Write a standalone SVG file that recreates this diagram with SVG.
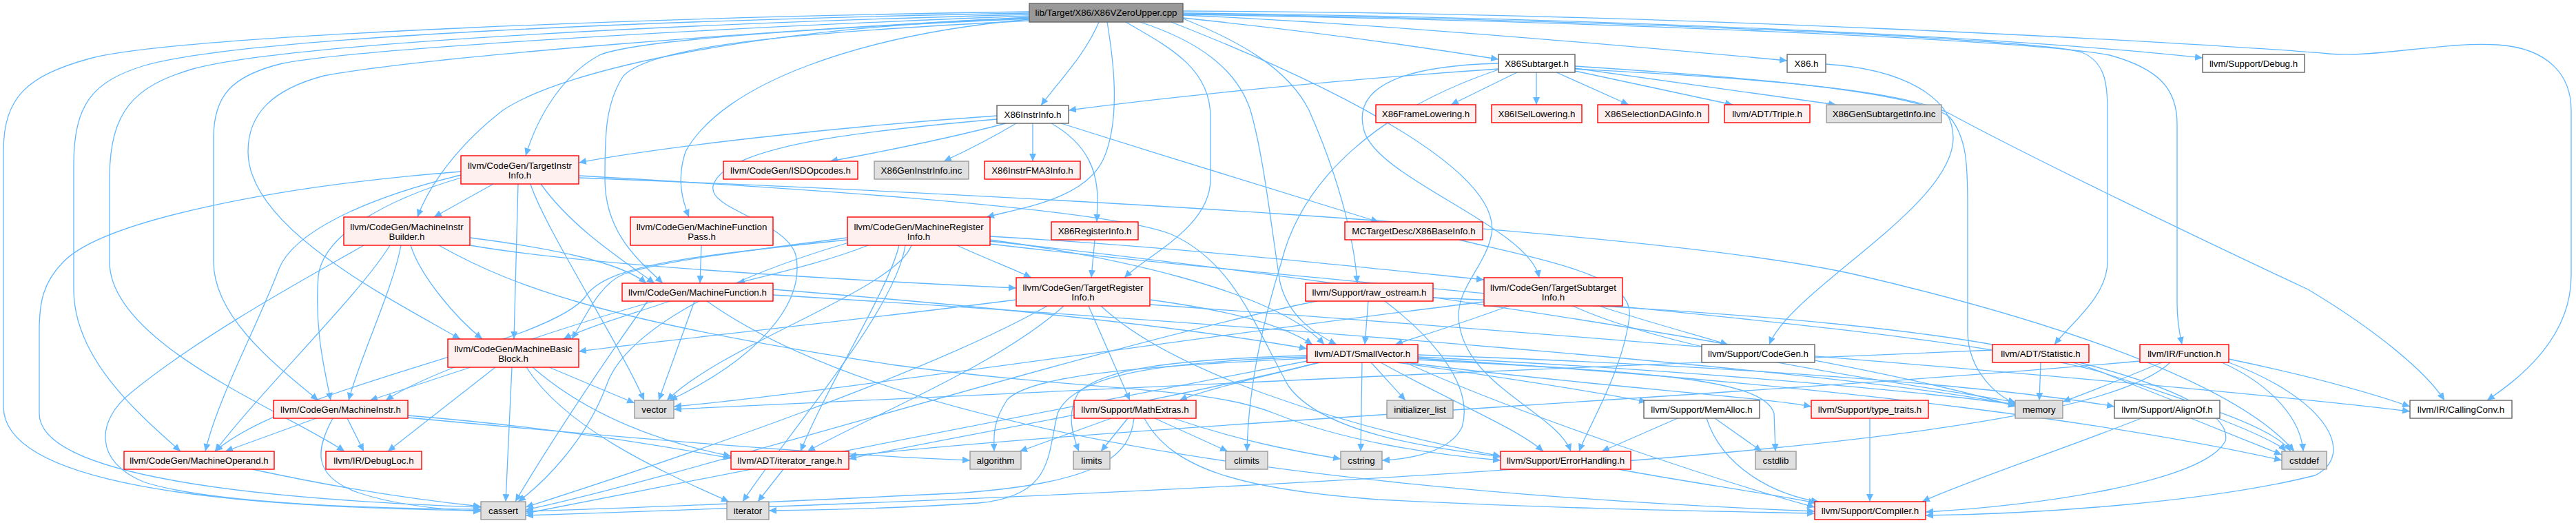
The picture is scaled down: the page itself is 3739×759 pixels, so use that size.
<svg xmlns="http://www.w3.org/2000/svg" width="3739" height="759" viewBox="0 0 3739 759">
<style>
.e path{fill:none;stroke:#63B8FF;stroke-width:1.3;marker-end:url(#ah)}
.n text{font-family:"Liberation Sans",Arial,sans-serif;font-size:13.33px;text-anchor:middle;fill:#000}
.n rect{stroke-width:1.4}
.red rect{fill:#FFF0F0;stroke:#FF0000}
.gry rect{fill:#E0E0E0;stroke:#999999}
.wht rect{fill:#FFFFFF;stroke:#666666}
.rt rect{fill:#999999;stroke:#666666}
</style>
<defs>
<marker id="ah" viewBox="0 0 11 10" refX="11" refY="5" markerWidth="11" markerHeight="10" markerUnits="userSpaceOnUse" orient="auto"><path d="M0,0L11,5L0,10z" fill="#63B8FF"/></marker>
</defs>
<rect width="3739" height="759" fill="#FFFFFF"/>
<g id="edges" class="e">
<path d="M1494,17 C1000,24 260,50 130,85 C40,110 5,140 5,220 L5,590 C5,700 300,736 698,741"/>
<path d="M1494,19 C1000,28 360,52 210,95 C135,118 107,150 107,240 L107,420 C107,520 200,600 262,655"/>
<path d="M1494,21 C1000,34 420,62 280,100 C195,125 159,160 159,260 L159,380 C159,500 420,600 500,655"/>
<path d="M1494,23 C1050,40 520,70 410,92 C335,110 310,140 310,200 L310,380 C310,460 400,530 462,581"/>
<path d="M1494,25 C1100,45 620,82 470,110 C395,130 360,165 360,220 C360,330 560,430 668,492"/>
<path d="M1494,27 C1200,40 920,58 870,80 C815,110 780,170 763,226"/>
<path d="M1494,26 C1100,40 820,100 730,160 C665,210 622,270 606,315"/>
<path d="M1494,28 C1250,50 1050,120 995,220 C982,260 990,290 1000,315"/>
<path d="M1494,30 C1200,45 950,62 905,110 C878,150 878,200 878,260 C878,340 930,380 962,411"/>
<path d="M1595,32 C1575,80 1535,120 1511,153"/>
<path d="M1607,32 C1615,80 1628,170 1602,230 C1575,290 1480,302 1432,315"/>
<path d="M1634,32 C1700,70 1757,100 1757,170 L1757,260 C1757,330 1665,370 1632,403"/>
<path d="M1655,32 C1740,60 1795,100 1815,160 C1835,230 1845,330 1858,410 C1870,460 1910,485 1940,500"/>
<path d="M1717,27 C1800,60 1870,100 1900,160 C1940,250 1965,340 1970,411"/>
<path d="M1717,26 C1900,45 2050,66 2175,86"/>
<path d="M1717,22 C2000,34 2400,70 2594,88"/>
<path d="M1717,19 C2300,25 2900,52 3197,84"/>
<path d="M1717,16 C2400,18 3200,62 3380,78 C3450,84 3550,60 3625,65 C3700,70 3732,110 3732,160 L3732,400 C3732,500 3640,560 3610,581"/>
<path d="M1717,20 C2300,28 2950,55 3022,76 C3055,90 3059,120 3059,160 L3059,380 C3059,430 3005,470 2982,500"/>
<path d="M1717,21 C2300,30 2950,58 3062,80 C3135,100 3160,130 3160,180 L3160,440 C3160,470 3165,490 3167,500"/>
<path d="M1700,32 C1950,130 2180,250 2165,340 C2155,390 2110,420 2118,470 C2130,560 2260,600 2280,655"/>
<path d="M2650,93 C2760,100 2835,140 2835,200 C2835,300 2600,420 2568,500"/>
<path d="M1447,168 C1200,185 950,215 840,236"/>
<path d="M1447,173 C1250,190 1050,212 1035,270 C1028,305 1140,320 1155,370 C1170,440 1100,520 972,581"/>
<path d="M1460,179 C1380,200 1270,222 1205,234"/>
<path d="M1475,179 C1440,200 1400,220 1370,234"/>
<path d="M1499,179 L1499,234"/>
<path d="M1526,179 C1580,210 1593,250 1593,290 L1592,322"/>
<path d="M1540,179 C1700,230 1900,290 2001,322"/>
<path d="M2202,105 L2106,152"/>
<path d="M2230,105 L2230,152"/>
<path d="M2259,105 L2364,152"/>
<path d="M2286,103 L2515,152"/>
<path d="M2286,99 L2665,152"/>
<path d="M2175,100 C1950,115 1700,140 1551,160"/>
<path d="M2175,92 C2050,95 1960,120 1980,190 C2000,260 2220,330 2234,403"/>
<path d="M2175,101 C2000,160 1890,260 1860,380 C1835,460 1812,560 1810,655"/>
<path d="M2286,96 C2500,110 2780,130 2830,170 C2855,200 2856,240 2856,300 L2856,480 C2856,540 2900,575 2926,586"/>
<path d="M2286,100 C2500,112 2750,125 2830,165 C2950,230 3200,350 3350,420 C3450,480 3522,540 3548,581"/>
<path d="M716,267 L630,315"/>
<path d="M752,267 L746,492"/>
<path d="M770,267 C790,330 900,500 935,581"/>
<path d="M785,267 C830,330 900,375 950,411"/>
<path d="M669,258 C560,290 470,340 462,400 C456,480 472,540 480,581"/>
<path d="M669,254 C520,290 425,340 405,390 C375,470 315,580 298,655"/>
<path d="M669,249 C400,270 150,320 92,380 C62,410 57,440 57,480 L57,600 C57,680 300,722 698,736"/>
<path d="M840,255 C1100,270 1600,300 1700,340 C1790,380 1820,470 1870,560 C1920,630 2080,650 2178,663"/>
<path d="M840,258 C1400,280 2400,330 2700,400 C3000,470 3250,560 3330,655"/>
<path d="M528,356 C470,390 300,480 190,570 C140,610 135,670 210,700 C300,728 500,738 698,739"/>
<path d="M566,356 C520,430 385,560 312,655"/>
<path d="M582,356 C570,420 522,520 506,581"/>
<path d="M596,356 C610,400 660,460 700,492"/>
<path d="M682,345 C800,360 900,380 938,411"/>
<path d="M682,356 C850,385 1200,405 1475,418"/>
<path d="M637,356 C750,420 900,470 1300,530 C1600,570 1750,560 1850,600 C1950,640 2080,660 2178,668"/>
<path d="M1018,356 L1016,411"/>
<path d="M1260,356 C1200,380 1120,398 1070,411"/>
<path d="M1230,345 C1100,362 960,378 905,398 C870,412 850,460 830,492"/>
<path d="M1230,348 C1000,372 880,385 850,430 C800,500 420,560 312,655"/>
<path d="M1232,352 C1000,420 900,500 880,560 C850,640 790,700 752,728"/>
<path d="M1437,348 C1600,370 1850,420 1922,500"/>
<path d="M1305,356 C1290,420 1200,560 1162,655"/>
<path d="M1314,356 C1300,450 1150,620 1078,728"/>
<path d="M1389,356 C1430,375 1470,390 1497,403"/>
<path d="M1437,343 C1700,358 1950,385 2154,406"/>
<path d="M1437,354 C2000,420 2800,470 3050,540 C3200,590 3300,620 3325,655"/>
<path d="M1437,350 C2000,410 2700,520 2926,590"/>
<path d="M1323,356 C1300,420 1050,500 968,581"/>
<path d="M1589,348 L1584,403"/>
<path d="M2118,348 C2250,380 2372,400 2365,460 C2355,540 2305,620 2292,655"/>
<path d="M1986,437 L1981,500"/>
<path d="M2010,437 C2080,490 2140,560 2122,620 C2105,655 2050,666 2006,668"/>
<path d="M1911,437 C1600,500 1000,690 763,740"/>
<path d="M2080,432 C2500,450 2900,480 3050,540 C3200,600 3300,635 3318,655"/>
<path d="M2154,438 C1800,480 1200,570 978,590"/>
<path d="M2190,444 C2120,470 2060,488 2025,500"/>
<path d="M2283,444 C2450,520 2800,560 2926,584"/>
<path d="M2321,444 C2400,470 2470,488 2508,500"/>
<path d="M972,437 C920,455 850,475 818,492"/>
<path d="M950,437 C800,480 620,540 560,581"/>
<path d="M1008,437 L956,581"/>
<path d="M1026,437 C1200,560 1600,700 2634,742"/>
<path d="M1122,420 C1500,450 1750,480 1897,506"/>
<path d="M1122,428 C1800,470 2700,540 2926,588"/>
<path d="M940,437 C880,520 800,640 748,728"/>
<path d="M1475,435 C1200,470 950,495 840,510"/>
<path d="M1520,444 C1350,540 1000,660 763,736"/>
<path d="M1544,444 C1450,530 1250,610 1172,655"/>
<path d="M1580,444 L1640,581"/>
<path d="M1598,444 C1700,540 1950,620 2178,662"/>
<path d="M1669,435 C1780,450 1860,470 1905,500"/>
<path d="M1669,442 C2200,480 3200,560 3498,597"/>
<path d="M1915,526 C1700,580 1350,640 1232,666"/>
<path d="M2058,515 C2500,530 2900,560 3069,590"/>
<path d="M2040,526 C2200,600 2500,700 2634,736"/>
<path d="M2004,526 C2100,580 2200,620 2240,655"/>
<path d="M1915,526 C1820,550 1750,565 1712,581"/>
<path d="M2028,526 C2200,550 2320,570 2390,583"/>
<path d="M2040,526 C2300,560 2550,575 2629,590"/>
<path d="M1897,520 C1700,530 1500,540 1462,580 C1442,610 1442,630 1443,655"/>
<path d="M1897,524 C1500,600 1000,700 763,745"/>
<path d="M2058,520 C2700,560 3100,620 3312,668"/>
<path d="M2058,522 C2400,540 2560,550 2575,600 L2577,655"/>
<path d="M1977,526 L1975,655"/>
<path d="M1990,526 L2040,581"/>
<path d="M1897,518 C1700,525 1560,540 1535,600 C1520,660 1530,720 1420,730 C1300,738 1200,740 1116,741"/>
<path d="M1897,516 C1700,522 1600,535 1565,570 C1548,600 1556,630 1566,655"/>
<path d="M2058,518 C2500,540 2800,570 2926,587"/>
<path d="M2892,508 C2300,530 1500,570 978,594"/>
<path d="M2962,526 L2960,581"/>
<path d="M3018,526 C3150,560 3240,600 3230,640 C3200,700 2950,735 2795,743"/>
<path d="M3106,524 C2600,570 1600,620 1232,662"/>
<path d="M3138,526 C3080,550 3030,570 2994,583"/>
<path d="M3150,526 C3050,620 2500,690 763,748"/>
<path d="M3225,526 C3300,560 3340,610 3343,655"/>
<path d="M3235,521 C3350,545 3440,570 3498,590"/>
<path d="M3235,526 C3380,580 3420,660 3360,690 C3200,730 2950,746 2795,748"/>
<path d="M683,533 L537,581"/>
<path d="M719,533 L563,655"/>
<path d="M743,533 L734,728"/>
<path d="M764,533 C820,620 950,680 1058,728"/>
<path d="M773,533 C850,600 950,640 1061,662"/>
<path d="M797,533 L921,585"/>
<path d="M459,607 L327,655"/>
<path d="M483,607 C460,650 450,690 520,715 C580,735 650,740 698,742"/>
<path d="M504,607 L528,655"/>
<path d="M592,603 C800,620 950,645 1061,665"/>
<path d="M592,606 C900,635 1200,660 1408,668"/>
<path d="M366,681 C500,710 600,725 698,735"/>
<path d="M1137,681 L1100,728"/>
<path d="M1613,607 L1480,655"/>
<path d="M1637,607 L1598,655"/>
<path d="M1646,607 C1640,660 1600,700 1400,715 C1100,730 900,738 763,742"/>
<path d="M1661,607 C1700,680 1800,710 2000,725 C2300,740 2500,742 2634,745"/>
<path d="M1676,607 L1782,655"/>
<path d="M1703,607 C1800,640 1880,655 1946,666"/>
<path d="M2435,607 L2325,655"/>
<path d="M2477,607 C2500,680 2580,720 2640,728"/>
<path d="M2489,607 L2557,655"/>
<path d="M2714,607 L2714,728"/>
<path d="M3108,607 C3000,650 2850,700 2790,728"/>
<path d="M3180,607 L3312,660"/>
<path d="M2349,681 C2450,700 2560,715 2636,730"/>
</g>
<g id="root" class="n rt"><rect x="1494" y="5" width="223" height="27"/><text x="1605.5" y="23">lib/Target/X86/X86VZeroUpper.cpp</text></g>
<g id="x86h" class="n wht"><rect x="2594" y="79" width="56" height="26"/><text x="2622" y="97">X86.h</text></g>
<g id="x86subtarget" class="n wht"><rect x="2175" y="79" width="111" height="26"/><text x="2230.5" y="97">X86Subtarget.h</text></g>
<g id="debug" class="n wht"><rect x="3197" y="79" width="148" height="26"/><text x="3271" y="97">llvm/Support/Debug.h</text></g>
<g id="x86instrinfo" class="n wht"><rect x="1447" y="153" width="104" height="26"/><text x="1499" y="171">X86InstrInfo.h</text></g>
<g id="x86framelowering" class="n red"><rect x="1997" y="152" width="145" height="26"/><text x="2069.5" y="170">X86FrameLowering.h</text></g>
<g id="x86isellowering" class="n red"><rect x="2165" y="152" width="131" height="26"/><text x="2230.5" y="170">X86ISelLowering.h</text></g>
<g id="x86selectiondaginfo" class="n red"><rect x="2319" y="152" width="161" height="26"/><text x="2399.5" y="170">X86SelectionDAGInfo.h</text></g>
<g id="triple" class="n red"><rect x="2503" y="152" width="124" height="26"/><text x="2565" y="170">llvm/ADT/Triple.h</text></g>
<g id="x86gensubtargetinfo" class="n gry"><rect x="2651" y="152" width="167" height="26"/><text x="2734.5" y="170">X86GenSubtargetInfo.inc</text></g>
<g id="targetinstrinfo" class="n red"><rect x="669" y="226" width="171" height="41"/><text x="754.5" y="245">llvm/CodeGen/TargetInstr</text><text x="754.5" y="259">Info.h</text></g>
<g id="isdopcodes" class="n red"><rect x="1050" y="234" width="195" height="26"/><text x="1147.5" y="252">llvm/CodeGen/ISDOpcodes.h</text></g>
<g id="x86geninstrinfo" class="n gry"><rect x="1269" y="234" width="137" height="26"/><text x="1337.5" y="252">X86GenInstrInfo.inc</text></g>
<g id="x86instrfma3info" class="n red"><rect x="1429" y="234" width="139" height="26"/><text x="1498.5" y="252">X86InstrFMA3Info.h</text></g>
<g id="machineinstrbuilder" class="n red"><rect x="499" y="315" width="183" height="41"/><text x="590.5" y="334">llvm/CodeGen/MachineInstr</text><text x="590.5" y="348">Builder.h</text></g>
<g id="machinefunctionpass" class="n red"><rect x="915" y="315" width="207" height="41"/><text x="1018.5" y="334">llvm/CodeGen/MachineFunction</text><text x="1018.5" y="348">Pass.h</text></g>
<g id="machineregisterinfo" class="n red"><rect x="1230" y="315" width="207" height="41"/><text x="1333.5" y="334">llvm/CodeGen/MachineRegister</text><text x="1333.5" y="348">Info.h</text></g>
<g id="x86registerinfo" class="n red"><rect x="1526" y="322" width="126" height="26"/><text x="1589" y="340">X86RegisterInfo.h</text></g>
<g id="x86baseinfo" class="n red"><rect x="1952" y="322" width="200" height="26"/><text x="2052" y="340">MCTargetDesc/X86BaseInfo.h</text></g>
<g id="machinefunction" class="n red"><rect x="903" y="411" width="219" height="26"/><text x="1012.5" y="429">llvm/CodeGen/MachineFunction.h</text></g>
<g id="targetregisterinfo" class="n red"><rect x="1475" y="403" width="194" height="41"/><text x="1572" y="422">llvm/CodeGen/TargetRegister</text><text x="1572" y="436">Info.h</text></g>
<g id="raw_ostream" class="n red"><rect x="1895" y="411" width="185" height="26"/><text x="1987.5" y="429">llvm/Support/raw_ostream.h</text></g>
<g id="targetsubtargetinfo" class="n red"><rect x="2154" y="403" width="201" height="41"/><text x="2254.5" y="422">llvm/CodeGen/TargetSubtarget</text><text x="2254.5" y="436">Info.h</text></g>
<g id="machinebasicblock" class="n red"><rect x="650" y="492" width="190" height="41"/><text x="745" y="511">llvm/CodeGen/MachineBasic</text><text x="745" y="525">Block.h</text></g>
<g id="smallvector" class="n red"><rect x="1897" y="500" width="161" height="26"/><text x="1977.5" y="518">llvm/ADT/SmallVector.h</text></g>
<g id="codegen" class="n wht"><rect x="2470" y="500" width="164" height="26"/><text x="2552" y="518">llvm/Support/CodeGen.h</text></g>
<g id="statistic" class="n red"><rect x="2892" y="500" width="140" height="26"/><text x="2962" y="518">llvm/ADT/Statistic.h</text></g>
<g id="function" class="n red"><rect x="3106" y="500" width="129" height="26"/><text x="3170.5" y="518">llvm/IR/Function.h</text></g>
<g id="machineinstr" class="n red"><rect x="397" y="581" width="195" height="26"/><text x="494.5" y="599">llvm/CodeGen/MachineInstr.h</text></g>
<g id="vector" class="n gry"><rect x="921" y="581" width="57" height="26"/><text x="949.5" y="599">vector</text></g>
<g id="mathextras" class="n red"><rect x="1559" y="581" width="177" height="26"/><text x="1647.5" y="599">llvm/Support/MathExtras.h</text></g>
<g id="initializer_list" class="n gry"><rect x="2013" y="581" width="96" height="26"/><text x="2061" y="599">initializer_list</text></g>
<g id="memalloc" class="n wht"><rect x="2386" y="581" width="168" height="26"/><text x="2470" y="599">llvm/Support/MemAlloc.h</text></g>
<g id="type_traits" class="n red"><rect x="2629" y="581" width="170" height="26"/><text x="2714" y="599">llvm/Support/type_traits.h</text></g>
<g id="memory" class="n gry"><rect x="2925" y="581" width="69" height="26"/><text x="2959.5" y="599">memory</text></g>
<g id="alignof" class="n wht"><rect x="3069" y="581" width="153" height="26"/><text x="3145.5" y="599">llvm/Support/AlignOf.h</text></g>
<g id="callingconv" class="n wht"><rect x="3498" y="581" width="148" height="26"/><text x="3572" y="599">llvm/IR/CallingConv.h</text></g>
<g id="machineoperand" class="n red"><rect x="180" y="655" width="218" height="26"/><text x="289" y="673">llvm/CodeGen/MachineOperand.h</text></g>
<g id="debugloc" class="n red"><rect x="473" y="655" width="139" height="26"/><text x="542.5" y="673">llvm/IR/DebugLoc.h</text></g>
<g id="iterator_range" class="n red"><rect x="1061" y="655" width="171" height="26"/><text x="1146.5" y="673">llvm/ADT/iterator_range.h</text></g>
<g id="algorithm" class="n gry"><rect x="1408" y="655" width="74" height="26"/><text x="1445" y="673">algorithm</text></g>
<g id="limits" class="n gry"><rect x="1558" y="655" width="53" height="26"/><text x="1584.5" y="673">limits</text></g>
<g id="climits" class="n gry"><rect x="1779" y="655" width="61" height="26"/><text x="1809.5" y="673">climits</text></g>
<g id="cstring" class="n gry"><rect x="1946" y="655" width="60" height="26"/><text x="1976" y="673">cstring</text></g>
<g id="errorhandling" class="n red"><rect x="2178" y="655" width="189" height="26"/><text x="2272.5" y="673">llvm/Support/ErrorHandling.h</text></g>
<g id="cstdlib" class="n gry"><rect x="2548" y="655" width="59" height="26"/><text x="2577.5" y="673">cstdlib</text></g>
<g id="cstddef" class="n gry"><rect x="3312" y="655" width="65" height="26"/><text x="3344.5" y="673">cstddef</text></g>
<g id="cassert" class="n gry"><rect x="698" y="728" width="65" height="26"/><text x="730.5" y="746">cassert</text></g>
<g id="iterator" class="n gry"><rect x="1055" y="728" width="61" height="26"/><text x="1085.5" y="746">iterator</text></g>
<g id="compiler" class="n red"><rect x="2634" y="728" width="161" height="26"/><text x="2714.5" y="746">llvm/Support/Compiler.h</text></g>
</svg>
